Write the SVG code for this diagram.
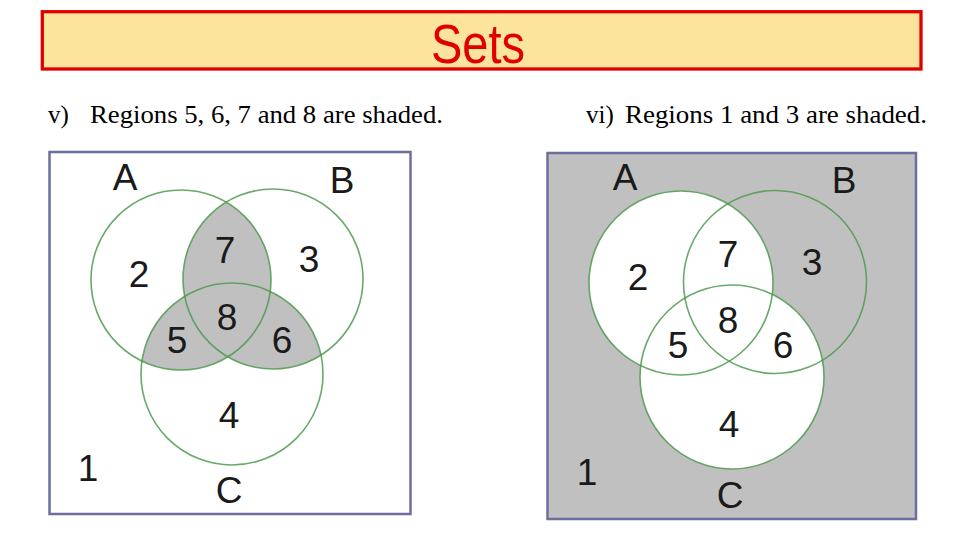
<svg xmlns="http://www.w3.org/2000/svg" width="960" height="540" viewBox="0 0 960 540">
<style>
.cap{font-family:"Liberation Serif","Times New Roman",serif;font-size:25px;fill:#000}
.lbl{font-family:"Liberation Sans",Arial,sans-serif;font-size:37px;fill:#1a1a1a;text-anchor:middle}
.circ{fill:none;stroke:#4f9a4f;stroke-width:1.6;stroke-opacity:0.85}
.frame{fill:none;stroke:#6e6e9e;stroke-width:2.5}
.shade{fill:#c0c0c0}
</style>
<defs>
<clipPath id="clA1"><circle cx="181" cy="280" r="90"/></clipPath>
<clipPath id="clB1"><circle cx="273" cy="279" r="90"/></clipPath>
</defs>
<rect width="960" height="540" fill="#ffffff"/>
<g id="title">
<rect x="42.3" y="11.7" width="878.7" height="57.3" fill="#fde49c" stroke="#e00000" stroke-width="3.3"/>
<text x="478" y="63" text-anchor="middle" font-family="Liberation Sans, Arial, sans-serif" font-size="56" fill="#e00000" textLength="94" lengthAdjust="spacingAndGlyphs">Sets</text>
</g>
<g id="caption-v">
<text class="cap" x="48" y="123">v)</text>
<text class="cap" x="90" y="123" textLength="353" lengthAdjust="spacingAndGlyphs">Regions 5, 6, 7 and 8 are shaded.</text>
</g>
<g id="caption-vi">
<text class="cap" x="586" y="123">vi)</text>
<text class="cap" x="625" y="123" textLength="302" lengthAdjust="spacingAndGlyphs">Regions 1 and 3 are shaded.</text>
</g>
<g id="venn-v">
<rect x="49.5" y="152" width="361" height="362" fill="#ffffff"/>
<g class="shade">
<circle cx="273" cy="279" r="90" clip-path="url(#clA1)"/>
<circle cx="232" cy="374" r="91" clip-path="url(#clA1)"/>
<circle cx="232" cy="374" r="91" clip-path="url(#clB1)"/>
</g>
<circle class="circ" cx="181" cy="280" r="90"/>
<circle class="circ" cx="273" cy="279" r="90"/>
<circle class="circ" cx="232" cy="374" r="91"/>
<rect class="frame" x="49.5" y="152" width="361" height="362"/>
<text class="lbl" x="125" y="190">A</text>
<text class="lbl" x="342" y="193">B</text>
<text class="lbl" x="229" y="503">C</text>
<text class="lbl" x="88" y="481">1</text>
<text class="lbl" x="139" y="287">2</text>
<text class="lbl" x="309" y="272">3</text>
<text class="lbl" x="229" y="428">4</text>
<text class="lbl" x="177" y="353">5</text>
<text class="lbl" x="282" y="353">6</text>
<text class="lbl" x="225" y="263">7</text>
<text class="lbl" x="227" y="330">8</text>
</g>
<g id="venn-vi">
<rect x="547.5" y="153" width="368.5" height="366" class="shade"/>
<circle cx="681" cy="283" r="92" fill="#ffffff"/>
<circle cx="732" cy="377" r="92" fill="#ffffff"/>
<circle class="circ" cx="681" cy="283" r="92"/>
<circle class="circ" cx="775" cy="282" r="91.5"/>
<circle class="circ" cx="732" cy="377" r="92"/>
<rect class="frame" x="547.5" y="153" width="368.5" height="366"/>
<text class="lbl" x="625" y="190">A</text>
<text class="lbl" x="844" y="193">B</text>
<text class="lbl" x="730" y="508">C</text>
<text class="lbl" x="587" y="485">1</text>
<text class="lbl" x="638" y="290">2</text>
<text class="lbl" x="812" y="275">3</text>
<text class="lbl" x="729" y="437">4</text>
<text class="lbl" x="678" y="358">5</text>
<text class="lbl" x="783" y="358">6</text>
<text class="lbl" x="728" y="267">7</text>
<text class="lbl" x="728" y="333">8</text>
</g>
</svg>
